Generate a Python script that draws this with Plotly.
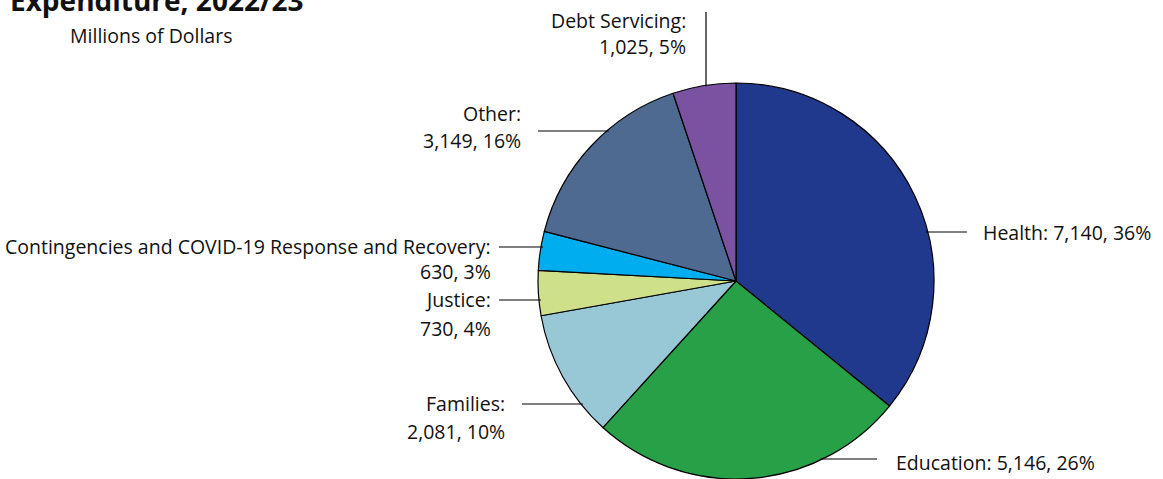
import math
import plotly.graph_objects as go

# ---- data ----
categories = ["Health", "Education", "Families", "Justice",
              "Contingencies and COVID-19 Response and Recovery",
              "Other", "Debt Servicing"]
values = [7140, 5146, 2081, 730, 630, 3149, 1025]
percents = [36, 26, 10, 4, 3, 16, 5]
colors = ["#20398C", "#27A048", "#98C8D6", "#CEE08A", "#00AEEF", "#4E6A91", "#7B52A1"]

title_text = "Expenditure, 2022/23"
subtitle_text = "Millions of Dollars"

W, H = 1163, 479
CX, CY, R = 736, 281, 198
FONT = "Open Sans"
FS = 19.5


def px(x):
    return x / W


def py(y):
    return 1 - y / H


fig = go.Figure(go.Pie(
    labels=categories, values=values, sort=False, direction="clockwise",
    rotation=0, marker=dict(colors=colors, line=dict(color="black", width=1.2)),
    textinfo="none", hoverinfo="label+value+percent",
    domain=dict(x=[px(CX - R), px(CX + R)], y=[0, (2 * R) / H]),
))


def fmt(i):
    return f"{values[i]:,}, {percents[i]}%"


def edge_x(y, side):
    return CX + side * math.sqrt(max(R * R - (y - CY) ** 2, 0))


ann = []
shapes = []


def text(x, y, s, anchor):
    ann.append(dict(x=px(x), y=py(y), xref="paper", yref="paper", text=s,
                    showarrow=False, xanchor=anchor, yanchor="middle",
                    font=dict(family=FONT, size=FS, color="#111")))


def hline(x0, x1, y):
    shapes.append(dict(type="line", xref="paper", yref="paper",
                       x0=px(x0), x1=px(x1), y0=py(y), y1=py(y),
                       line=dict(color="black", width=1.2)))


# Health
text(981, 232, f"{categories[0]}: {fmt(0)}", "left")
hline(edge_x(232, 1) - 2, 967, 232)
# Education
text(894, 462, f"{categories[1]}: {fmt(1)}", "left")
hline(edge_x(459, 1) - 2, 877, 459)
# Families
text(507, 403, f"{categories[2]}:", "right")
text(507, 431, fmt(2), "right")
hline(522, edge_x(404, -1) + 2, 404)
# Justice
text(493, 299, f"{categories[3]}:", "right")
text(493, 328, fmt(3), "right")
hline(499, edge_x(300, -1) + 2, 300)
# Contingencies
text(493, 246, f"{categories[4]}:", "right")
text(493, 271, fmt(4), "right")
hline(499, edge_x(247, -1) + 2, 247)
# Other
text(523, 114, f"{categories[5]}:", "right")
text(523, 140, fmt(5), "right")
hline(538, edge_x(131, -1) + 2, 131)
# Debt Servicing (vertical leader)
text(688, 21, f"{categories[6]}:", "right")
text(688, 46, fmt(6), "right")
dx = 706
dy_edge = CY - math.sqrt(R * R - (dx - CX) ** 2)
shapes.append(dict(type="line", xref="paper", yref="paper",
                   x0=px(dx), x1=px(dx), y0=py(12), y1=py(dy_edge + 1),
                   line=dict(color="black", width=1.2)))

# Title (cut off at top, as in the source) and subtitle
ann.append(dict(x=px(8), y=py(21), xref="paper", yref="paper", text=f"<b>{title_text}</b>",
                showarrow=False, xanchor="left", yanchor="bottom",
                font=dict(family=FONT, size=28, color="#111")))
text(151, 36, subtitle_text, "center")

fig.update_layout(
    width=W, height=H, margin=dict(l=0, r=0, t=0, b=0),
    paper_bgcolor="white", plot_bgcolor="white", showlegend=False,
    annotations=ann, shapes=shapes,
)

fig.write_html("out.html", config={"displayModeBar": False},
               post_script="document.body.style.margin='0';")
